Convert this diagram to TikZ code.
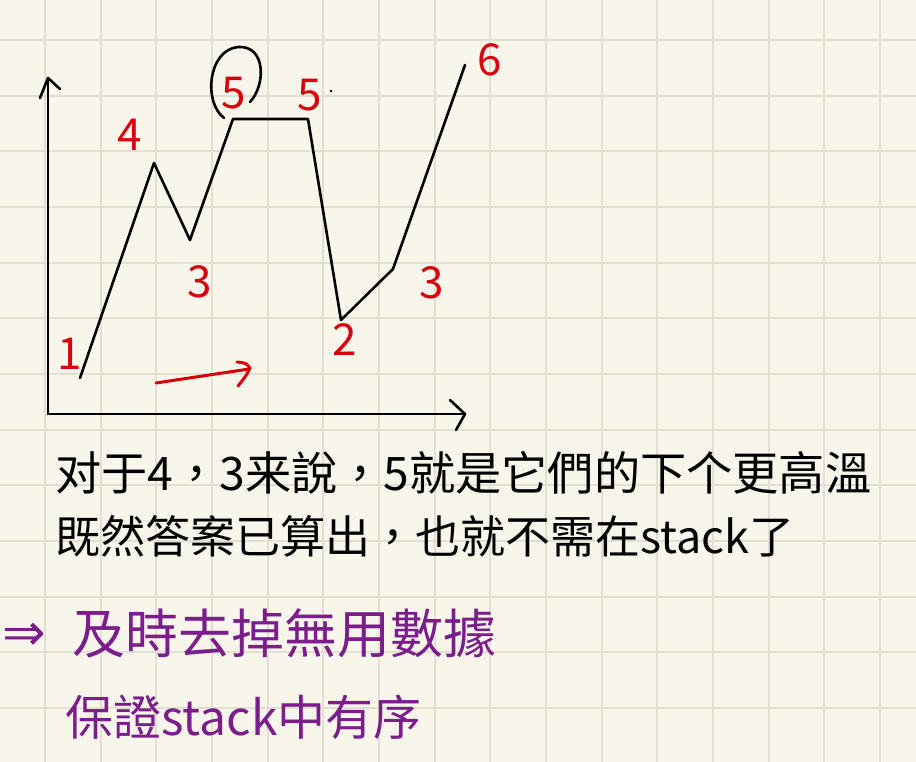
\documentclass[tikz,border=0pt]{standalone}
\usepackage{fontspec}
\newfontfamily\cjk{Noto Sans CJK TC}
\newfontfamily\dv{DejaVu Sans}
\definecolor{paper}{HTML}{F8F6EA}
\definecolor{gridc}{HTML}{E3E0D3}
\definecolor{inkred}{HTML}{D8000C}
\definecolor{inkpurple}{HTML}{7B1E8C}
\tikzset{
  ink/.style={line width=2.6pt, line cap=round, line join=round},
  digit/.style={text=inkred, font=\cjk\fontsize{44}{44}\selectfont, inner sep=0pt},
  txt/.style={anchor=base west, inner sep=0pt},
}
\begin{document}
\begin{tikzpicture}[x=1pt,y=-1pt]
\fill[paper] (0,0) rectangle (916,762);
\useasboundingbox (0,0) rectangle (916,762);
% grid
\foreach \i in {0,...,15} {\draw[gridc, line width=1.8pt] ({45+55.67*\i},0) -- ({45+55.67*\i},762);}
\foreach \j in {0,...,13} {\draw[gridc, line width=1.8pt] (0,{40+55.67*\j}) -- (916,{40+55.67*\j});}
% axes
\coordinate (o) at (48,414);
\coordinate (ytop) at (48,78);
\coordinate (xend) at (465,414);
\draw[ink] (o) -- (ytop);
\draw[ink] (40,98) -- (ytop) -- (60,89);
\draw[ink] (o) -- (xend);
\draw[ink] (450,400) -- (xend) -- (456,430);
% curve
\coordinate (p1) at (80,378);
\coordinate (p2) at (154,163);
\coordinate (p3) at (190,240);
\coordinate (p4) at (233,119);
\coordinate (p5) at (308,119);
\coordinate (p6) at (341,320);
\coordinate (p7) at (393,269);
\coordinate (p8) at (465,65);
\draw[ink] (p1) -- (p2) -- (p3) -- (p4) -- (p5) -- (p6) -- (p7) -- (p8);
% circle around 5
\draw[ink] (224,118) .. controls (203,102) and (208,50) .. (238,47) .. controls (266,45) and (266,85) .. (250,102);
% labels
\node[digit] (l1) at (70,354) {1};
\node[digit] (l4) at (130,135) {4};
\node[digit] (l3a) at (200,282) {3};
\node[digit] (l5a) at (234,93) {5};
\node[digit] (l5b) at (310,95) {5};
\fill (331,91) circle (1.3);
\node[digit] (l2) at (345,340) {2};
\node[digit] (l3b) at (432,283) {3};
\node[digit] (l6) at (490,60) {6};
% red arrow
\coordinate (ra) at (156,383);
\coordinate (rb) at (249,369);
\draw[ink, inkred, line width=3pt] (ra) -- (rb);
\draw[ink, inkred, line width=3pt] (237,362) .. controls (246,363) .. (250,368) .. controls (246,376) .. (238,386);
% text
\node[txt] (t1) at (55,490) {\cjk\fontsize{46.2}{46.2}\selectfont 对于4，3来說，5就是它們的下个更高溫};
\node[txt] (t2) at (55,553) {\cjk\fontsize{45}{45}\selectfont 既然答案已算出，也就不需在stack了};
\node[txt, text=inkpurple] (arr) at (2,650) {\dv\fontsize{52}{52}\selectfont ⇒};
\node[txt, text=inkpurple] (t3) at (72,653) {\cjk\fontsize{53}{53}\selectfont 及時去掉無用數據};
\node[txt, text=inkpurple] (t4) at (65,735) {\cjk\fontsize{48}{48}\selectfont 保證stack中有序};
\end{tikzpicture}
\end{document}
